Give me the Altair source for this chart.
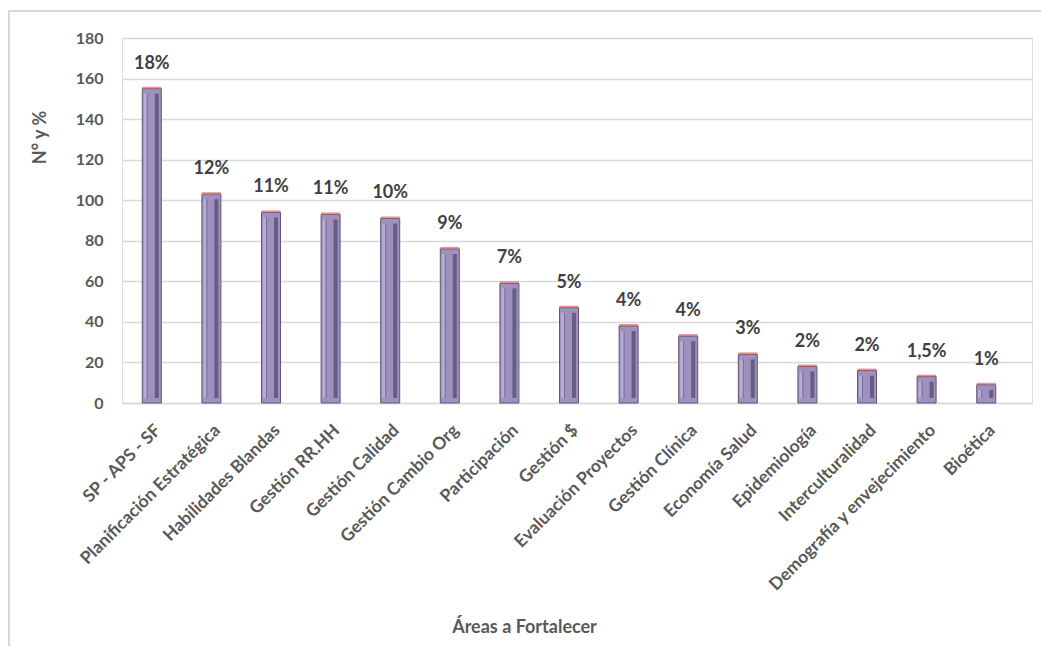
import altair as alt
import pandas as pd

areas = ["SP - APS - SF", "Planificación Estratégica", "Habilidades Blandas", "Gestión RR.HH",
         "Gestión Calidad", "Gestión Cambio Org", "Participación", "Gestión $",
         "Evaluación Proyectos", "Gestión Clínica", "Economía Salud", "Epidemiología",
         "Interculturalidad", "Demografía y envejecimiento", "Bioética"]
values = [155, 103, 94, 93, 91, 76, 59, 47, 38, 33, 24, 18, 16, 13, 9]
pct_labels = ["18%", "12%", "11%", "11%", "10%", "9%", "7%", "5%", "4%", "4%",
              "3%", "2%", "2%", "1,5%", "1%"]
y_ticks = [0, 20, 40, 60, 80, 100, 120, 140, 160, 180]

df = pd.DataFrame({"area": areas, "valor": values, "pct": pct_labels})

FONT = "Lato"
GRAY = "#595959"

x_enc = alt.X("area:N", sort=areas,
              scale=alt.Scale(paddingInner=0, paddingOuter=0.134, align=0),
              axis=alt.Axis(title="Áreas a Fortalecer", labelAngle=-45, labelFont=FONT,
                            labelFontSize=17.5, labelFontWeight="bold", labelColor=GRAY,
                            labelPadding=18, labelLimit=0, ticks=False, domainColor="#D9D9D9",
                            domainWidth=1.5, titleFont=FONT, titleFontSize=18,
                            titleFontWeight="bold", titleColor=GRAY,
                            titleX=402, titleY=224, titleBaseline="middle",
                            titleAnchor="middle"))
y_scale = alt.Scale(domain=[0, 180], nice=False)
y_enc = alt.Y("valor:Q", scale=y_scale,
              axis=alt.Axis(title="N° y %", values=y_ticks, labelFont=FONT, labelFontSize=16,
                            labelFontWeight="bold", labelColor=GRAY, labelPadding=19,
                            ticks=False, domain=False, gridColor="#D9D9D9", gridWidth=1.5,
                            titleFont=FONT, titleFontSize=18, titleFontWeight="bold",
                            titleColor=GRAY, titleX=-82, titleY=99, titleBaseline="middle",
                            titleAngle=-90, titleAlign="center"))

base = alt.Chart(df)

bars = base.mark_bar(size=19, color="#9E91BE", stroke="#5F5578", strokeWidth=1).encode(
    x=x_enc, y=y_enc)

inner = base.transform_calculate(top="datum.valor - 2.5").encode(
    x=alt.X("area:N", sort=areas),
    y=alt.Y("top:Q", scale=y_scale),
    y2=alt.datum(2.5))
left_bevel = inner.mark_bar(size=3, color="#B7ABD8", xOffset=-6.5)
face_line = inner.mark_bar(size=1, color="#7A6E96", xOffset=-4.5)
right_bevel = inner.mark_bar(size=4, color="#675C84", xOffset=5)

top_line = base.mark_tick(color="#E06666", size=19, thickness=2, yOffset=-1).encode(
    x=alt.X("area:N", sort=areas), y=alt.Y("valor:Q", scale=y_scale))

labels = base.mark_text(font=FONT, fontSize=18, fontWeight="bold", color="#404040",
                        baseline="middle", dy=-25).encode(
    x=alt.X("area:N", sort=areas), y=alt.Y("valor:Q", scale=y_scale), text="pct:N")

frame = alt.Chart(pd.DataFrame({"a": [0]})).mark_rect(
    fill=None, stroke="#D9D9D9", strokeWidth=2).encode(
    x=alt.value(-113), x2=alt.value(960), y=alt.value(-27), y2=alt.value(700))

chart = alt.layer(frame, bars, left_bevel, face_line, right_bevel, top_line, labels).properties(
    width=910, height=365,
    autosize=alt.AutoSizeParams(type="none"),
    padding={"left": 122, "top": 38, "right": 9, "bottom": 243},
).configure_view(stroke=None).configure(background="white")

chart.save("out.html", embed_options={"renderer": "svg", "actions": False})
